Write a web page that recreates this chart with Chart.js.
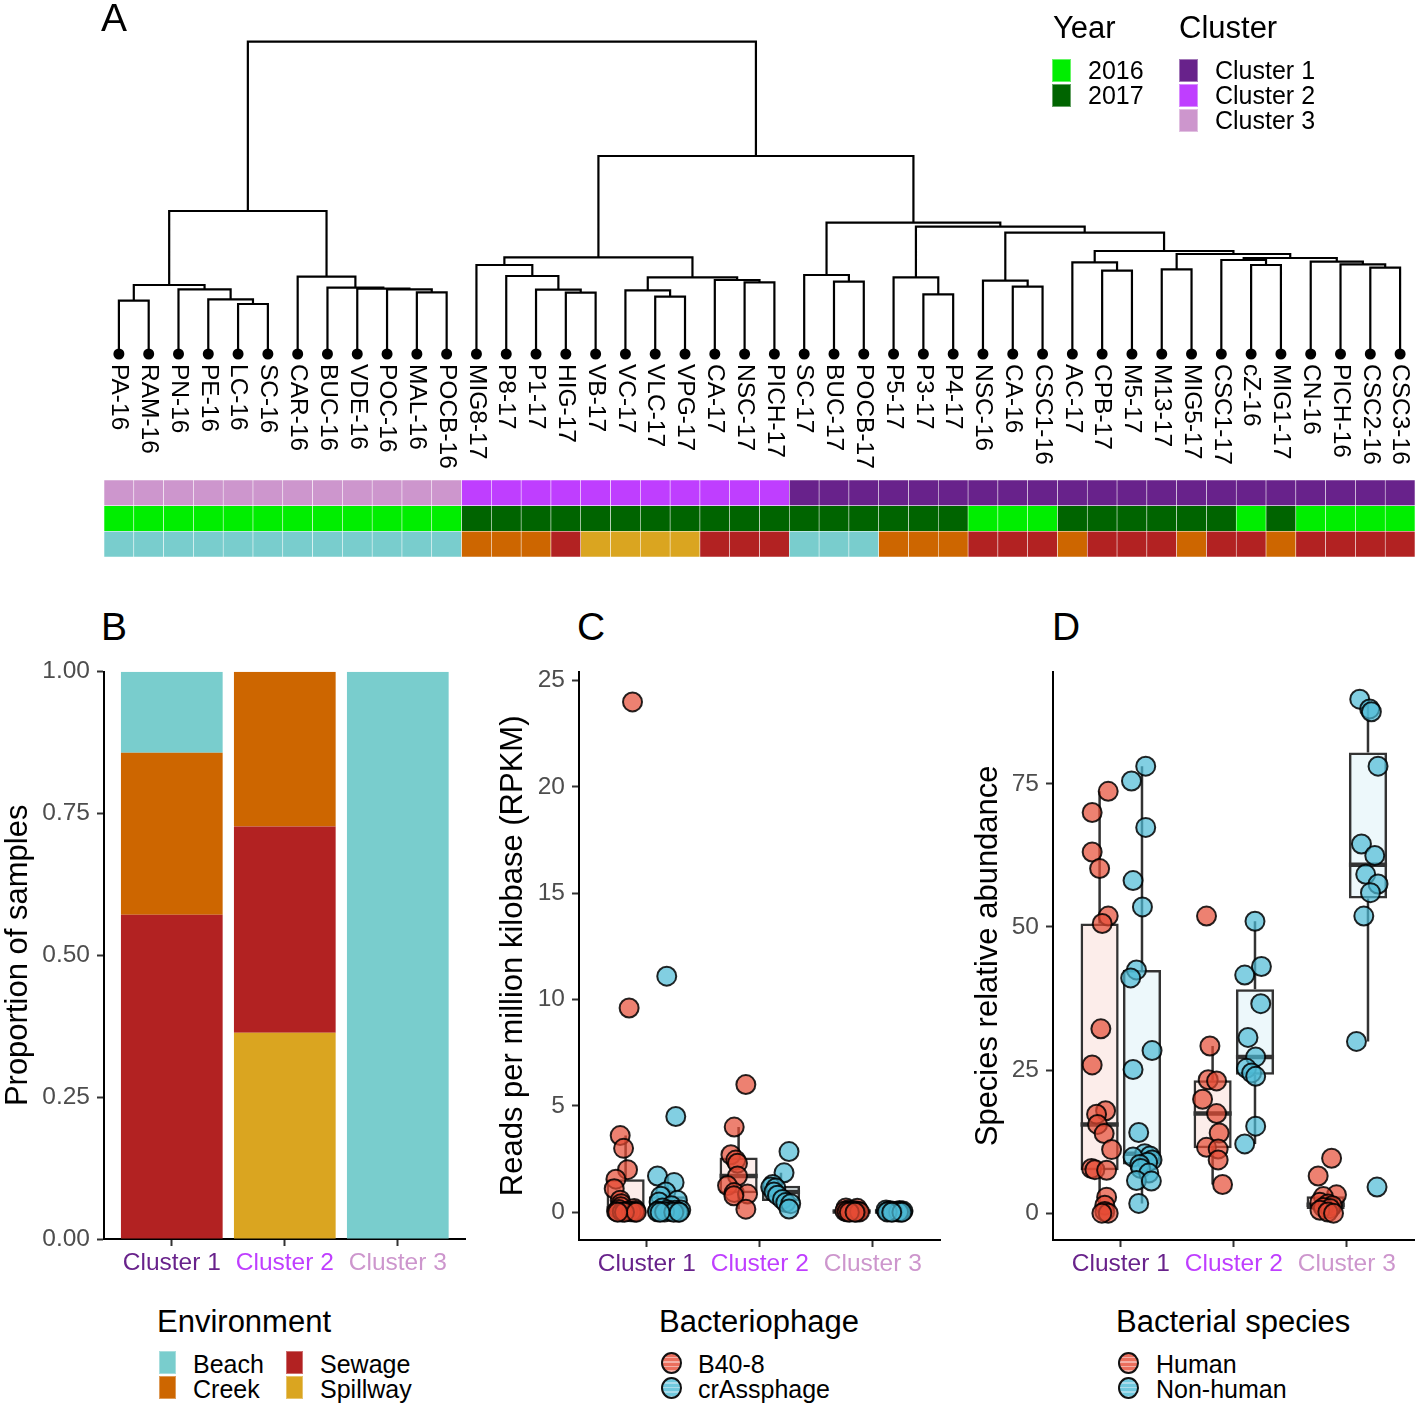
<!DOCTYPE html>
<html>
<head>
<meta charset="utf-8">
<title>Clusters, bacteriophage and bacterial species</title>
<script src="https://cdn.jsdelivr.net/npm/chart.js@4.4.1/dist/chart.umd.min.js"></script>
<style>
  html, body { margin: 0; padding: 0; background: #fff; }
  body { position: relative; width: 1416px; height: 1405px; overflow: hidden;
         font-family: 'Liberation Sans', Arial, Helvetica, sans-serif; color: #000; }
  canvas { position: absolute; }
  .txt { position: absolute; line-height: 1; white-space: nowrap; }
  .key { position: absolute; box-sizing: border-box; }
</style>
</head>
<body>
<canvas id="dendro"></canvas>
<canvas id="strips"></canvas>
<canvas id="envBars"></canvas>
<canvas id="phage"></canvas>
<canvas id="species"></canvas>
<script>
'use strict';

// ── Data ──────────────────────────────────────────────────────────────────────

const leafLabels = [
  'PA-16', 'RAM-16', 'PN-16', 'PE-16', 'LC-16', 'SC-16', 'CAR-16', 'BUC-16', 'VDE-16', 'POC-16', 'MAL-16', 'POCB-16',
  'MIG8-17', 'P8-17', 'P1-17', 'HIG-17', 'VB-17', 'VC-17', 'VLC-17', 'VPG-17', 'CA-17', 'NSC-17', 'PICH-17',
  'SC-17', 'BUC-17', 'POCB-17', 'P5-17', 'P3-17', 'P4-17', 'NSC-16', 'CA-16', 'CSC1-16', 'AC-17', 'CPB-17',
  'M5-17', 'M13-17', 'MIG5-17', 'CSC1-17', 'cZ-16', 'MIG1-17', 'CN-16', 'PICH-16', 'CSC2-16', 'CSC3-16',
];

const leafCluster = [
  3, 3, 3, 3, 3, 3, 3, 3, 3, 3, 3, 3,
  2, 2, 2, 2, 2, 2, 2, 2, 2, 2, 2,
  1, 1, 1, 1, 1, 1, 1, 1, 1, 1, 1, 1, 1, 1, 1, 1, 1, 1, 1, 1, 1,
];

const leafYear = [
  2016, 2016, 2016, 2016, 2016, 2016, 2016, 2016, 2016, 2016, 2016, 2016,
  2017, 2017, 2017, 2017, 2017, 2017, 2017, 2017, 2017, 2017, 2017,
  2017, 2017, 2017, 2017, 2017, 2017, 2016, 2016, 2016, 2017, 2017,
  2017, 2017, 2017, 2017, 2016, 2017, 2016, 2016, 2016, 2016,
];

const leafEnv = [
  'Beach', 'Beach', 'Beach', 'Beach', 'Beach', 'Beach', 'Beach', 'Beach', 'Beach', 'Beach', 'Beach', 'Beach',
  'Creek', 'Creek', 'Creek', 'Sewage', 'Spillway', 'Spillway', 'Spillway', 'Spillway', 'Sewage', 'Sewage', 'Sewage',
  'Beach', 'Beach', 'Beach', 'Creek', 'Creek', 'Creek', 'Sewage', 'Sewage', 'Sewage', 'Creek', 'Sewage',
  'Sewage', 'Sewage', 'Creek', 'Sewage', 'Sewage', 'Creek', 'Sewage', 'Sewage', 'Sewage', 'Sewage',
];

// hclust-style merges: [left, right, height]; -k = leaf k (1-based), +j = merge j
const merges = [
  [-1, -2, 53.3], [-5, -6, 50], [-4, 2, 54.7], [-3, 3, 64.7], [1, 4, 69],
  [-11, -12, 61.7], [-10, 6, 64.7], [-9, 7, 65.3], [-8, 8, 66.3], [-7, 9, 77.3],
  [5, 10, 143],
  [-16, -17, 61.3], [-15, 12, 64.3], [-14, 13, 78], [-13, 14, 89],
  [-19, -20, 57.3], [-18, 16, 63.7], [-22, -23, 71.7], [-21, 18, 74], [17, 19, 76.7],
  [15, 20, 96.7],
  [-25, -26, 72.3], [-24, 22, 79], [-28, -29, 59.7], [-27, 24, 76.7],
  [-31, -32, 67.3], [-30, 26, 73.3], [-34, -35, 83.3], [-33, 28, 91.7],
  [-36, -37, 84.7], [-39, -40, 89], [-38, 31, 94], [-43, -44, 86.3], [-42, 33, 89.7],
  [-41, 34, 92.3], [32, 35, 96], [30, 36, 100], [29, 37, 103], [27, 38, 121.3],
  [25, 39, 127.3], [23, 40, 131.3], [21, 41, 198], [11, 42, 312.3],
];

const clusterNames = ['Cluster 1', 'Cluster 2', 'Cluster 3'];
const propTicks  = [0, 0.25, 0.5, 0.75, 1];
const rpkmTicks  = [0, 5, 10, 15, 20, 25];
const abundTicks = [0, 25, 50, 75];

// Reads per million kilobase, one list per cluster, with the jitter
const b40Rpkm = [
  [24.0, 9.6, 3.6, 3.0, 2.0, 1.55, 1.1, 0.56, 0.4, 0.25, 0.17, 0.12, 0.08, 0.05, 0.03, 0.02, 0.01, 0.01, 0, 0, 0],
  [6.0, 4.0, 2.7, 2.45, 2.3, 1.7, 1.25, 0.92, 0.85, 0.77, 0.14],
  [0.2, 0.18, 0.1, 0.08, 0.05, 0.04, 0.03, 0.02, 0.01, 0.01, 0, 0],
];
const b40Jitter = [
  [0.061, 0.031, -0.048, -0.018, 0.017, -0.086, -0.101, -0.048, -0.04, -0.042, 0.076, -0.06, 0.09, 0.02, -0.08, 0.05, -0.03, 0.08, -0.01, 0.095, -0.07],
  [0.064, -0.039, -0.068, -0.025, -0.01, -0.01, -0.098, -0.039, 0.079, -0.042, 0.064],
  [-0.05, 0.05, -0.03, 0.02, -0.06, 0.06, 0.0, -0.04, 0.04, 0.07, -0.02, 0.03],
];
const crAssRpkm = [
  [11.1, 4.5, 1.7, 1.4, 0.95, 0.75, 0.56, 0.48, 0.3, 0.2, 0.1, 0.1, 0.09, 0.05, 0.03, 0.02, 0.01, 0.01, 0, 0, 0],
  [2.85, 1.85, 1.3, 1.18, 1.14, 0.95, 0.8, 0.6, 0.45, 0.4, 0.15],
  [0.1, 0.08, 0.06, 0.05, 0.04, 0.03, 0.02, 0.02, 0.01, 0.01, 0, 0],
];
const crAssJitter = [
  [-0.011, 0.069, -0.093, 0.054, -0.02, -0.064, 0.084, -0.079, 0.03, -0.05, 0.113, -0.005, 0.06, -0.09, 0.02, -0.093, 0.09, -0.03, 0.051, -0.07, 0.1],
  [0.071, 0.027, -0.073, -0.091, -0.046, -0.062, -0.031, 0.013, 0.042, 0.086, 0.071],
  [-0.07, 0.05, -0.03, 0.08, -0.05, 0.02, 0.06, -0.01, 0.04, -0.06, 0.07, -0.02],
];

// Species relative abundance
const humanAbund = [
  [73.7, 70.0, 63.1, 60.2, 51.9, 50.6, 32.2, 25.9, 17.9, 17.3, 15.5, 13.9, 11.1, 7.8, 7.6, 7.5, 2.8, 1.4, 0.3, 0, 0],
  [51.9, 29.2, 23.3, 23.1, 19.9, 17.4, 14.0, 11.5, 11.2, 9.3, 5.0],
  [9.6, 6.5, 3.2, 2.9, 1.9, 1.6, 1.3, 1.0, 0.8, 0.5, 0.2, 0],
];
const humanJitter = [
  [0.076, -0.066, -0.066, 0, 0.076, 0.023, 0.011, -0.066, 0.053, -0.027, -0.018, 0.04, 0.106, -0.071, -0.042, 0.062, 0.062, 0.046, 0.046, 0.076, 0.02],
  [-0.054, -0.024, -0.039, 0.035, -0.089, 0.035, 0.058, -0.054, 0.049, 0.049, 0.088],
  [0.053, -0.066, 0.096, -0.02, -0.051, 0.022, 0.06, -0.02, 0.04, -0.05, 0.02, 0.07],
];
const nonHumanAbund = [
  [78.1, 75.5, 67.4, 58.1, 53.5, 42.5, 41.1, 28.4, 25.1, 14.1, 10.4, 10.0, 9.8, 9.3, 8.9, 8.5, 7.8, 7.0, 5.7, 5.6, 1.7],
  [51.0, 43.1, 41.6, 36.6, 30.7, 27.3, 25.3, 24.5, 23.9, 15.2, 12.1],
  [89.8, 88.1, 87.6, 78.1, 64.5, 62.5, 59.2, 57.5, 56.0, 51.9, 30.0, 4.55],
];
const nonHumanJitter = [
  [0.033, -0.093, 0.033, -0.079, 0.004, -0.049, -0.1, 0.089, -0.079, -0.029, 0.024, 0.07, -0.079, 0.089, 0.05, -0.02, -0.011, 0.06, -0.049, 0.083, -0.029],
  [0, 0.057, -0.091, 0.051, -0.062, 0.006, -0.075, -0.03, 0.006, 0.006, -0.091],
  [-0.073, 0.015, 0.03, 0.089, -0.058, 0.06, -0.02, 0.089, 0.022, -0.037, -0.102, 0.08],
];

// ── Styling ───────────────────────────────────────────────────────────────────

const clusterColors = ['#68228B', '#BF3EFF', '#CD96CD'];
const yearColors = { 2016: '#00EE00', 2017: '#006400' };
const envColors = { Beach: '#79CDCD', Creek: '#CD6600', Sewage: '#B22222', Spillway: '#DAA520' };
const RED = '230,75,53';
const BLUE = '77,187,213';

const BAND = 113;          // px per cluster on the lower panels
const DODGE = 0.1875;      // half of the 0.75 dodge width
const BOX_HALF = 0.16875;  // half box width (0.375 * 0.9 / 2)

Chart.defaults.font.family = "'Liberation Sans', Arial, Helvetica, sans-serif";
Chart.defaults.color = '#4d4d4d';

const baseOptions = {
  responsive: false,
  animation: false,
  devicePixelRatio: 1,
  plugins: { legend: { display: false }, tooltip: { enabled: false } },
};

const axisLine = { display: true, color: '#000', width: 2 };
const tickMarks = { display: true, drawOnChartArea: false, drawTicks: true, tickLength: 7, tickWidth: 2, tickColor: '#333', offset: false };

function makeCanvas(id, left, top, width, height) {
  const c = document.getElementById(id);
  c.width = width;
  c.height = height;
  c.style.left = left + 'px';
  c.style.top = top + 'px';
  c.style.width = width + 'px';
  c.style.height = height + 'px';
  return c;
}

function clusterAxis(stacked) {
  return {
    type: 'linear', min: 0.4, max: 3.6, offset: false, stacked,
    grid: tickMarks, border: axisLine,
    afterBuildTicks: axis => { axis.ticks = clusterNames.map((_, i) => ({ value: i + 1 })); },
    afterFit: axis => { axis.height = 55; },
    ticks: {
      padding: 3, autoSkip: false, maxRotation: 0, font: { size: 24.5 },
      color: ctx => clusterColors[ctx.index],
      callback: v => clusterNames[v - 1],
    },
  };
}

function valueAxis(min, max, ticks, fmt, title, width, stacked) {
  return {
    type: 'linear', min, max, stacked,
    grid: tickMarks, border: axisLine,
    afterBuildTicks: axis => { axis.ticks = ticks.map(v => ({ value: v })); },
    afterFit: axis => { axis.width = width; },
    ticks: { padding: 7, font: { size: 24.5 }, color: '#4d4d4d', callback: fmt },
    title: { display: true, text: title, color: '#000', font: { size: 31 }, padding: 0 },
  };
}

// ── A: dendrogram + annotation strips ─────────────────────────────────────────

function dendroSegments() {
  const nodeX = [];
  const nodeH = [];
  const pos = ref => (ref < 0 ? [-ref - 1, 0] : [nodeX[ref - 1], nodeH[ref - 1]]);
  const pts = [];
  merges.forEach(([a, b, h]) => {
    const [xa, ha] = pos(a);
    const [xb, hb] = pos(b);
    pts.push({ x: xa, y: ha }, { x: xa, y: h }, { x: xb, y: h }, { x: xb, y: hb }, { x: null, y: null });
    nodeX.push((xa + xb) / 2);
    nodeH.push(h);
  });
  return pts;
}

const leafLabelPlugin = {
  id: 'leafLabels',
  afterDraw(chart) {
    const { ctx, scales: { x, y } } = chart;
    ctx.save();
    ctx.font = "24.5px 'Liberation Sans', Arial, sans-serif";
    ctx.fillStyle = '#000';
    ctx.textAlign = 'left';
    ctx.textBaseline = 'middle';
    leafLabels.forEach((label, i) => {
      ctx.save();
      ctx.translate(x.getPixelForValue(i), y.getPixelForValue(0) + 10);
      ctx.rotate(Math.PI / 2);
      ctx.fillText(label, 0, 0);
      ctx.restore();
    });
    ctx.restore();
  },
};

new Chart(makeCanvas('dendro', 104, 30, 1311, 448), {
  type: 'scatter',
  data: {
    datasets: [
      {
        data: leafLabels.map((_, i) => ({ x: i, y: 0 })),
        pointRadius: 5.5, pointBorderWidth: 0,
        backgroundColor: '#000', borderColor: '#000', clip: false,
      },
      {
        data: dendroSegments(),
        showLine: true, borderColor: '#000', borderWidth: 2.2, borderJoinStyle: 'miter',
        pointRadius: 0, spanGaps: false, clip: false,
      },
    ],
  },
  options: {
    ...baseOptions,
    layout: { autoPadding: false, padding: { bottom: 118 } },
    scales: {
      x: { display: false, min: -0.5, max: 43.5 },
      y: { display: false, min: -6, max: 324 },
    },
  },
  plugins: [leafLabelPlugin],
});

// bottom → top: environment, year, cluster
const stripRows = [
  leafEnv.map(e => envColors[e]),
  leafYear.map(y => yearColors[y]),
  leafCluster.map(c => clusterColors[c - 1]),
];

new Chart(makeCanvas('strips', 104, 480, 1311, 77), {
  type: 'bar',
  data: {
    labels: leafLabels,
    datasets: stripRows.map(colors => ({
      data: leafLabels.map(() => 1),
      backgroundColor: colors,
      borderColor: 'rgba(255,255,255,0.5)',
      borderWidth: 0.6,
      borderSkipped: false,
      barPercentage: 1,
      categoryPercentage: 1,
    })),
  },
  options: {
    ...baseOptions,
    layout: { autoPadding: false },
    scales: {
      x: { display: false, stacked: true },
      y: { display: false, stacked: true, min: 0, max: 3 },
    },
  },
});

// ── B: environment proportions ────────────────────────────────────────────────

function envShare(cluster, env) {
  const members = leafEnv.filter((_, i) => leafCluster[i] === cluster);
  return members.filter(e => e === env).length / members.length;
}

const stackOrder = ['Spillway', 'Sewage', 'Creek', 'Beach'];

new Chart(makeCanvas('envBars', 0, 650, 470, 644), {
  type: 'bar',
  data: {
    datasets: stackOrder.map(env => ({
      label: env,
      data: clusterNames.map((_, i) => ({ x: i + 1, y: envShare(i + 1, env) })),
      backgroundColor: envColors[env],
      borderWidth: 0,
      barPercentage: 0.9,
      categoryPercentage: 1,
    })),
  },
  options: {
    ...baseOptions,
    layout: { autoPadding: false, padding: { top: 21, right: 470 - 104 - BAND * 3.2 } },
    scales: {
      x: clusterAxis(true),
      y: valueAxis(0, 1, propTicks, v => v.toFixed(2), 'Proportion of samples', 104, true),
    },
  },
});

// ── C / D: jitter + boxplots ──────────────────────────────────────────────────

function quantile(sorted, p) {
  const pos = (sorted.length - 1) * p;
  const lo = Math.floor(pos);
  const hi = Math.ceil(pos);
  return sorted[lo] + (sorted[hi] - sorted[lo]) * (pos - lo);
}

function boxStats(vals) {
  const s = [...vals].sort((a, b) => a - b);
  const q1 = quantile(s, 0.25);
  const med = quantile(s, 0.5);
  const q3 = quantile(s, 0.75);
  const iqr = q3 - q1;
  const lo = s.find(v => v >= q1 - 1.5 * iqr);
  const hi = [...s].reverse().find(v => v <= q3 + 1.5 * iqr);
  return { q1, med, q3, lo, hi };
}

function boxPanel(id, left, width, axisWidth, series, yMin, yMax, ticks, title) {
  const datasets = [];
  const gap = { x: null, y: null };

  series.forEach(s => {
    datasets.push({
      type: 'scatter',
      order: 0,
      data: s.values.flatMap((vals, c) =>
        vals.map((v, k) => ({ x: c + 1 + s.shift + s.jitter[c][k], y: v }))),
      pointRadius: 9.5,
      pointBorderWidth: 2,
      backgroundColor: `rgba(${s.rgb},0.7)`,
      borderColor: 'rgba(0,0,0,0.85)',
      clip: false,
    });
  });

  series.forEach(s => {
    const stats = s.values.map(boxStats);
    const centre = c => c + 1 + s.shift;

    datasets.push({
      type: 'scatter', order: 1, showLine: true, pointRadius: 0,
      borderColor: '#333', borderWidth: 4.5, borderCapStyle: 'butt',
      data: stats.flatMap((st, c) => [
        { x: centre(c) - BOX_HALF, y: st.med }, { x: centre(c) + BOX_HALF, y: st.med }, gap,
      ]),
    });

    datasets.push({
      type: 'bar', order: 2, grouped: false,
      data: stats.map((st, c) => ({ x: centre(c), y: [st.q1, st.q3] })),
      backgroundColor: `rgba(${s.rgb},0.1)`,
      borderColor: '#333',
      borderWidth: 2.5,
      borderSkipped: false,
      barPercentage: 0.9,
      categoryPercentage: 1,
    });

    datasets.push({
      type: 'scatter', order: 3, showLine: true, pointRadius: 0,
      borderColor: '#333', borderWidth: 2.5,
      data: stats.flatMap((st, c) => [
        { x: centre(c), y: st.q3 }, { x: centre(c), y: st.hi }, gap,
        { x: centre(c), y: st.q1 }, { x: centre(c), y: st.lo }, gap,
      ]),
    });
  });

  return new Chart(makeCanvas(id, left, 650, width, 645), {
    type: 'scatter',
    data: { datasets },
    options: {
      ...baseOptions,
      layout: { autoPadding: false, padding: { top: 18, right: width - axisWidth - BAND * 3.2 } },
      scales: {
        x: clusterAxis(false),
        y: valueAxis(yMin, yMax, ticks, v => String(v), title, axisWidth, false),
      },
    },
  });
}

boxPanel('phage', 495, 450, 84, [
  { values: b40Rpkm, jitter: b40Jitter, rgb: RED, shift: -DODGE },
  { values: crAssRpkm, jitter: crAssJitter, rgb: BLUE, shift: DODGE },
], -1.31, 25.42, rpkmTicks, 'Reads per million kilobase (RPKM)');

boxPanel('species', 970, 446, 83, [
  { values: humanAbund, jitter: humanJitter, rgb: RED, shift: -DODGE },
  { values: nonHumanAbund, jitter: nonHumanJitter, rgb: BLUE, shift: DODGE },
], -4.69, 94.6, abundTicks, 'Species relative abundance');

// ── Tags and legends ──────────────────────────────────────────────────────────

function addText(text, x, baseline, size, color = '#000') {
  const d = document.createElement('div');
  d.className = 'txt';
  d.textContent = text;
  d.style.left = x + 'px';
  d.style.top = (baseline - 0.8465 * size) + 'px';
  d.style.fontSize = size + 'px';
  d.style.color = color;
  document.body.appendChild(d);
}

function addKey(x, y, w, h, css) {
  const d = document.createElement('div');
  d.className = 'key';
  d.style.cssText += `left:${x}px;top:${y}px;width:${w}px;height:${h}px;${css}`;
  document.body.appendChild(d);
}

function pointKey(cx, cy, rgb, light) {
  addKey(cx - 10.5, cy - 11, 21, 22,
    `border-radius:50%;border:2px solid #111;background:repeating-linear-gradient(180deg, rgba(${rgb},0.8) 0 3px, ${light} 3px 4.5px);`);
}

addText('A', 101, 31, 39);
addText('B', 101, 640, 39);
addText('C', 577, 640, 39);
addText('D', 1052, 640, 39);

// Year / Cluster
addText('Year', 1053, 38, 31);
[2016, 2017].forEach((yr, i) => {
  addKey(1052, 59 + 25 * i, 19, 23, `background:${yearColors[yr]};box-shadow:inset 0 0 0 1px rgba(255,255,255,0.4);`);
  addText(String(yr), 1088, 79 + 25 * i, 25);
});
addText('Cluster', 1179, 38, 31);
clusterNames.forEach((name, i) => {
  addKey(1179, 59 + 25 * i, 19, 23, `background:${clusterColors[i]};box-shadow:inset 0 0 0 1px rgba(255,255,255,0.4);`);
  addText(name, 1215, 79 + 25 * i, 25);
});

// Environment
addText('Environment', 157, 1332, 31);
[['Beach', 159, 0], ['Sewage', 286, 0], ['Creek', 159, 1], ['Spillway', 286, 1]].forEach(([env, x, row]) => {
  addKey(x, 1351 + 25 * row, 17, 23, `background:${envColors[env]};box-shadow:inset 0 0 0 1px rgba(255,255,255,0.35);`);
  addText(env, x + 34, 1373 + 25 * row, 25);
});

// Bacteriophage
addText('Bacteriophage', 659, 1332, 31);
pointKey(671, 1362.5, RED, 'rgba(245,175,165,1)');
pointKey(671, 1387.5, BLUE, 'rgba(170,220,235,1)');
addText('B40-8', 698, 1373, 25);
addText('crAssphage', 698, 1398, 25);

// Bacterial species
addText('Bacterial species', 1116, 1332, 31);
pointKey(1128, 1362.5, RED, 'rgba(245,175,165,1)');
pointKey(1128, 1387.5, BLUE, 'rgba(170,220,235,1)');
addText('Human', 1156, 1373, 25);
addText('Non-human', 1156, 1398, 25);
</script>
</body>
</html>
